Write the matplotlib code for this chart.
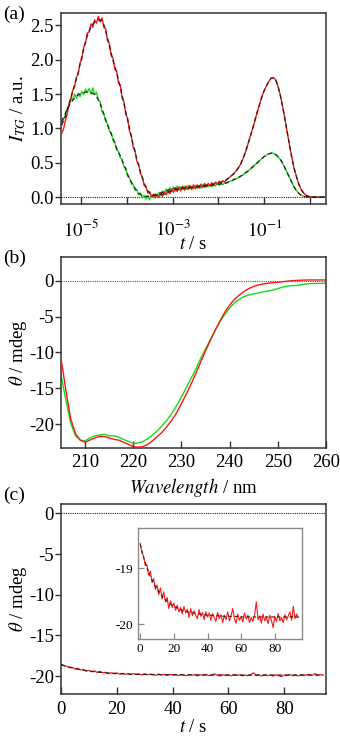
import numpy as np
import matplotlib
matplotlib.use("Agg")
import matplotlib.pyplot as plt
from matplotlib.ticker import FixedLocator, FixedFormatter

plt.rcParams['font.family'] = ['Liberation Serif', 'DejaVu Serif']
plt.rcParams['mathtext.fontset'] = 'stix'
plt.rcParams['axes.unicode_minus'] = False

# ---------------- Panel (a): TG signal vs log time ----------------
# early (noisy) region: log10(t) from -5.42 to -1.82 (91 samples)
red_data_early = [0.93, 0.99, 1.11, 1.21, 1.35, 1.42, 1.55, 1.60, 1.74, 1.79,
                  1.95, 2.02, 2.18, 2.24, 2.39, 2.40, 2.52, 2.47, 2.58, 2.53,
                  2.63, 2.55, 2.61, 2.47, 2.45, 2.28, 2.24, 2.06, 2.02, 1.86,
                  1.84, 1.66, 1.63, 1.44, 1.39, 1.20, 1.15, 0.96, 0.90, 0.73,
                  0.68, 0.52, 0.48, 0.34, 0.30, 0.17, 0.16, 0.06, 0.08, 0.01,
                  0.04, -0.01, 0.04, 0.00, 0.06, 0.01, 0.08, 0.03, 0.10, 0.05,
                  0.12, 0.07, 0.14, 0.08, 0.15, 0.09, 0.16, 0.10, 0.16, 0.11,
                  0.17, 0.11, 0.18, 0.12, 0.18, 0.13, 0.19, 0.14, 0.20, 0.15,
                  0.20, 0.16, 0.21, 0.17, 0.22, 0.19, 0.23, 0.20, 0.24, 0.22,
                  0.26]
green_data_early = [1.05, 1.13, 1.18, 1.29, 1.33, 1.45, 1.41, 1.50, 1.44, 1.51,
                    1.46, 1.54, 1.49, 1.57, 1.52, 1.58, 1.50, 1.59, 1.49, 1.53,
                    1.41, 1.39, 1.24, 1.21, 1.10, 1.07, 0.96, 0.94, 0.83, 0.80,
                    0.68, 0.67, 0.57, 0.55, 0.44, 0.42, 0.30, 0.29, 0.19, 0.19,
                    0.10, 0.11, 0.03, 0.06, -0.01, 0.03, -0.03, 0.02, -0.04, 0.03,
                    -0.01, 0.05, 0.00, 0.07, 0.02, 0.09, 0.04, 0.12, 0.06, 0.14,
                    0.08, 0.15, 0.09, 0.16, 0.10, 0.15, 0.11, 0.16, 0.11, 0.17,
                    0.12, 0.16, 0.12, 0.17, 0.13, 0.17, 0.13, 0.18, 0.14, 0.18,
                    0.15, 0.19, 0.15, 0.19, 0.16, 0.20, 0.17, 0.21, 0.18, 0.21,
                    0.20]
red_fit_early = [1.05, 1.11, 1.18, 1.27, 1.36, 1.45, 1.54, 1.63, 1.72, 1.81,
                 1.93, 2.04, 2.15, 2.26, 2.35, 2.42, 2.48, 2.52, 2.55, 2.57,
                 2.58, 2.58, 2.56, 2.51, 2.42, 2.32, 2.20, 2.10, 1.99, 1.90,
                 1.81, 1.70, 1.60, 1.48, 1.36, 1.24, 1.12, 1.00, 0.88, 0.76,
                 0.66, 0.55, 0.46, 0.37, 0.28, 0.20, 0.14, 0.09, 0.06, 0.04,
                 0.03, 0.03, 0.03, 0.03, 0.04, 0.04, 0.05, 0.06, 0.07, 0.08,
                 0.09, 0.10, 0.11, 0.11, 0.12, 0.12, 0.13, 0.13, 0.13, 0.14,
                 0.14, 0.14, 0.15, 0.15, 0.15, 0.16, 0.16, 0.17, 0.17, 0.17,
                 0.18, 0.18, 0.19, 0.19, 0.20, 0.21, 0.21, 0.22, 0.23, 0.24,
                 0.25]
green_fit_early = [1.10, 1.16, 1.22, 1.28, 1.33, 1.37, 1.41, 1.44, 1.47, 1.49,
                   1.50, 1.51, 1.52, 1.53, 1.53, 1.53, 1.52, 1.51, 1.49, 1.46,
                   1.42, 1.36, 1.29, 1.21, 1.13, 1.05, 0.99, 0.92, 0.86, 0.78,
                   0.71, 0.65, 0.60, 0.53, 0.47, 0.40, 0.33, 0.27, 0.22, 0.17,
                   0.13, 0.09, 0.06, 0.04, 0.02, 0.01, 0.01, 0.01, 0.01, 0.02,
                   0.02, 0.03, 0.04, 0.05, 0.06, 0.07, 0.08, 0.09, 0.10, 0.11,
                   0.11, 0.12, 0.12, 0.12, 0.12, 0.13, 0.13, 0.13, 0.13, 0.14,
                   0.14, 0.14, 0.14, 0.15, 0.15, 0.15, 0.15, 0.16, 0.16, 0.16,
                   0.17, 0.17, 0.17, 0.18, 0.18, 0.19, 0.19, 0.19, 0.20, 0.20,
                   0.21]
# late (smooth) region: log10(t) from -1.75 to 0.35 (43 samples)
red_late = [0.29, 0.32, 0.35, 0.39, 0.44, 0.50, 0.58, 0.67, 0.78, 0.89,
            1.00, 1.12, 1.24, 1.35, 1.46, 1.55, 1.62, 1.68, 1.73, 1.74,
            1.71, 1.62, 1.49, 1.33, 1.15, 0.96, 0.77, 0.59, 0.43, 0.31,
            0.20, 0.12, 0.07, 0.035, 0.015, 0.006, 0.002, 0.0, 0.0, 0.0,
            0.0, 0.0, 0.0]
green_late = [0.23, 0.24, 0.26, 0.27, 0.29, 0.31, 0.33, 0.36, 0.38, 0.41,
              0.44, 0.47, 0.50, 0.53, 0.56, 0.59, 0.61, 0.63, 0.64, 0.64,
              0.62, 0.59, 0.55, 0.50, 0.43, 0.36, 0.29, 0.22, 0.15, 0.10,
              0.06, 0.03, 0.015, 0.006, 0.002, 0.0, 0.0, 0.0, 0.0, 0.0,
              0.0, 0.0, 0.0]
a_xtick_decades = [-5, -4, -3, -2, -1, 0]
a_xtick_labels = [r'$10^{-5}$', '', r'$10^{-3}$', '', r'$10^{-1}$', '']
a_yticks = [0.0, 0.5, 1.0, 1.5, 2.0, 2.5]

# ---------------- Panel (b): CD spectra ----------------
wavelength = list(range(205, 261))
cd_red = [-10.8, -15.2, -19.2, -21.3, -22.2, -22.5, -22.2, -21.9, -21.7, -21.7,
          -21.9, -22.1, -22.2, -22.5, -22.8, -23.1, -23.2, -23.1, -22.8, -22.3,
          -21.7, -21.1, -20.3, -19.4, -18.4, -17.1, -15.8, -14.4, -12.9, -11.3,
          -9.8, -8.3, -6.9, -5.6, -4.4, -3.4, -2.6, -2.0, -1.5, -1.1,
          -0.8, -0.6, -0.45, -0.35, -0.28, -0.22, -0.15, -0.07, 0.0, 0.04,
          0.07, 0.09, 0.1, 0.1, 0.1, 0.1]
cd_green = [-13.1, -16.6, -19.8, -21.6, -22.2, -22.3, -21.9, -21.6, -21.5, -21.4,
            -21.6, -21.6, -21.8, -22.1, -22.4, -22.7, -22.6, -22.4, -22.0, -21.5,
            -20.9, -20.2, -19.4, -18.5, -17.4, -16.2, -14.9, -13.6, -12.3, -10.8,
            -9.5, -8.2, -6.9, -5.7, -4.7, -3.8, -3.1, -2.6, -2.2, -2.0,
            -1.85, -1.7, -1.55, -1.45, -1.3, -1.1, -0.9, -0.75, -0.7, -0.65,
            -0.55, -0.45, -0.4, -0.38, -0.37, -0.36]
b_xticks = [210, 220, 230, 240, 250, 260]
b_yticks = [0, -5, -10, -15, -20]

# ---------------- Panel (c): CD kinetics at fixed wavelength ----------------
kin_time = list(range(0, 95))
kin_red = [-18.55, -18.72, -18.78, -18.95, -18.93, -19.12, -19.05, -19.25, -19.18, -19.38,
           -19.30, -19.47, -19.35, -19.55, -19.42, -19.60, -19.52, -19.72, -19.58, -19.70,
           -19.62, -19.75, -19.66, -19.78, -19.70, -19.82, -19.68, -19.80, -19.73, -19.88,
           -19.72, -19.85, -19.76, -19.84, -19.90, -19.74, -19.86, -19.79, -19.92, -19.78,
           -19.87, -19.80, -19.93, -19.81, -19.88, -19.95, -19.79, -19.90, -19.83, -19.97,
           -19.84, -19.92, -19.78, -19.94, -19.85, -19.72, -19.90, -19.98, -19.82, -19.93,
           -19.86, -19.96, -19.80, -19.91, -19.84, -19.97, -19.88, -19.95, -19.83, -19.60,
           -19.92, -19.85, -19.98, -19.82, -19.94, -19.87, -19.99, -19.84, -19.93, -20.06,
           -19.86, -19.95, -19.81, -19.94, -19.88, -19.97, -19.83, -19.92, -19.85, -19.78,
           -19.93, -19.68, -19.90, -19.82, -19.88]
fit_time = list(range(0, 96, 2))
kin_fit = [-18.57, -18.80, -18.99, -19.14, -19.27, -19.37, -19.46, -19.53, -19.59, -19.64,
           -19.68, -19.71, -19.74, -19.76, -19.78, -19.79, -19.80, -19.81, -19.82, -19.83,
           -19.84, -19.84, -19.85, -19.85, -19.85, -19.86, -19.86, -19.86, -19.86, -19.86,
           -19.87, -19.87, -19.87, -19.87, -19.87, -19.87, -19.87, -19.87, -19.87, -19.87,
           -19.87, -19.87, -19.87, -19.87, -19.87, -19.87, -19.87, -19.87]
c_xticks = [0, 20, 40, 60, 80]
c_yticks = [0, -5, -10, -15, -20]
inset_yticks = [-19, -20]

RED = '#ff1414'
GREEN = '#14dc14'
SPINE = '#333333'
FS = 13.5

fig = plt.figure(figsize=(3.40, 7.41), dpi=100)


def style_axes(ax, spine_color=SPINE, lw=1.1):
    for s in ax.spines.values():
        s.set_color(spine_color)
        s.set_linewidth(lw)
    ax.tick_params(axis='x', which='major', direction='in', length=5, width=1.0,
                   color=spine_color, labelsize=FS, pad=3, top=False)
    ax.tick_params(axis='y', which='major', direction='out', length=4, width=1.0,
                   color=spine_color, labelsize=FS, pad=1, right=False)
    ax.tick_params(which='minor', length=0)


# ---- (a)
axA = fig.add_axes([0.1794, 0.7247, 0.7794, 0.2578])
early_lt = np.linspace(-5.42, -1.82, len(red_data_early))
late_lt = np.linspace(-1.75, 0.35, len(red_late))
t_early = 10.0 ** early_lt
t_late = 10.0 ** late_lt
t_all = np.concatenate([t_early, t_late])
axA.axhline(0, color='#222222', lw=0.8, ls=(0, (1, 1)), zorder=1)
axA.plot(t_all, np.concatenate([green_data_early, green_late]), color=GREEN, lw=1.0, zorder=2)
axA.plot(t_all, np.concatenate([red_data_early, red_late]), color=RED, lw=1.0, zorder=3)
axA.plot(t_all, np.concatenate([green_fit_early, green_late]), color='#222222', lw=0.9,
         ls=(0, (3.5, 2.5)), zorder=4)
axA.plot(t_all, np.concatenate([red_fit_early, red_late]), color='#222222', lw=0.9,
         ls=(0, (3.5, 2.5)), zorder=4)
axA.set_xscale('log')
axA.set_xlim(10 ** -5.435, 10 ** 0.35)
axA.set_ylim(-0.1, 2.68)
axA.xaxis.set_major_locator(FixedLocator([10.0 ** d for d in a_xtick_decades]))
axA.xaxis.set_major_formatter(FixedFormatter(a_xtick_labels))
axA.xaxis.set_minor_locator(FixedLocator([]))
axA.set_yticks(a_yticks)
axA.set_yticklabels([f'{v:.1f}' for v in a_yticks])
style_axes(axA)
axA.tick_params(axis='x', pad=11)
axA.set_xlabel(r'$t$ / s', fontsize=FS, labelpad=-3)
axA.set_ylabel(r'$I_{TG}$ / a.u.', fontsize=FS, labelpad=2)

# ---- (b)
axB = fig.add_axes([0.1794, 0.3954, 0.7794, 0.2578])
axB.axhline(0, color='#555555', lw=0.8, ls=(0, (1, 1)), zorder=1)
axB.plot(wavelength, cd_green, color=GREEN, lw=1.0, zorder=2)
axB.plot(wavelength, cd_red, color=RED, lw=1.0, zorder=3)
axB.set_xlim(205, 260)
axB.set_ylim(-23.3, 3.3)
axB.set_xticks(b_xticks)
axB.set_yticks(b_yticks)
axB.set_yticklabels([str(v) for v in b_yticks])
style_axes(axB)
axB.tick_params(axis='x', pad=4)
axB.set_xlabel(r'$\mathit{Wavelength}$ / nm', fontsize=FS, labelpad=4)
axB.set_ylabel(r'$\theta$ / mdeg', fontsize=FS, labelpad=0)

# ---- (c)
axC = fig.add_axes([0.1794, 0.0634, 0.7794, 0.2564])
axC.axhline(0, color='#222222', lw=0.8, ls=(0, (1, 1)), zorder=1)
axC.plot(kin_time, kin_red, color=RED, lw=0.9, zorder=2)
axC.plot(fit_time, kin_fit, color='#222222', lw=0.9, ls=(0, (3.5, 2.5)), zorder=3)
axC.set_xlim(0, 95)
axC.set_ylim(-22.2, 1.15)
axC.set_xticks(c_xticks)
axC.set_yticks(c_yticks)
axC.set_yticklabels([str(v) for v in c_yticks])
style_axes(axC)
axC.tick_params(axis='x', pad=5)
axC.set_xlabel(r'$t$ / s', fontsize=FS, labelpad=1)
axC.set_ylabel(r'$\theta$ / mdeg', fontsize=FS, labelpad=0)

# inset
axI = fig.add_axes([0.405, 0.1373, 0.4824, 0.1506])
axI.plot(kin_time, kin_red, color=RED, lw=0.8, zorder=2)
axI.plot(fit_time, kin_fit, color='#222222', lw=0.8, ls=(0, (3, 2.5)), zorder=3)
axI.set_xlim(-1.5, 96)
axI.set_ylim(-20.27, -18.27)
axI.set_xticks(c_xticks)
axI.set_yticks(inset_yticks)
axI.set_yticklabels([str(v) for v in inset_yticks])
for s in axI.spines.values():
    s.set_color('#8a8a8a')
    s.set_linewidth(1.0)
axI.tick_params(axis='both', direction='in', length=4, width=0.9, color='#8a8a8a',
                labelsize=9.5, top=False, right=False)
axI.tick_params(axis='x', pad=3)
axI.tick_params(axis='y', pad=3)

# panel labels
fig.text(0.008, 0.981, '(a)', fontsize=14, va='center', ha='left')
fig.text(0.008, 0.652, '(b)', fontsize=14, va='center', ha='left')
fig.text(0.008, 0.332, '(c)', fontsize=14, va='center', ha='left')

fig.savefig('out.png', dpi=100)
